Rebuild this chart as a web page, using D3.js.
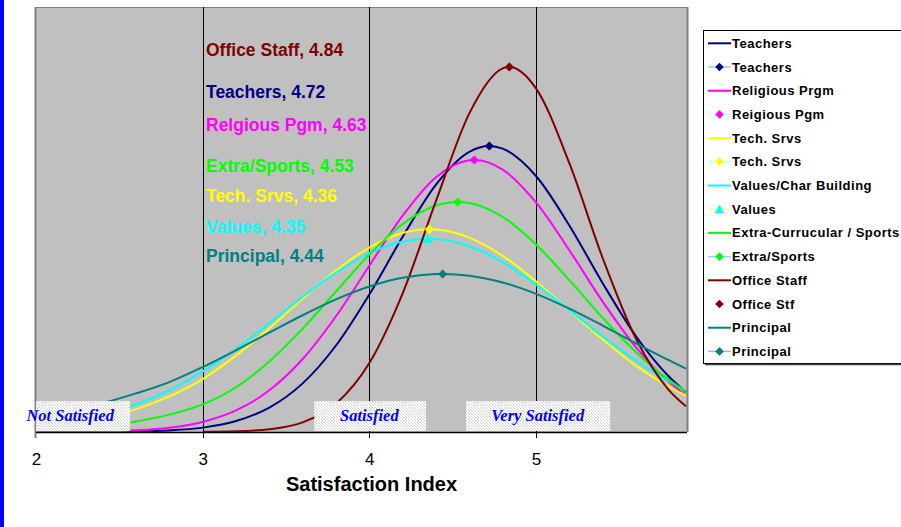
<!DOCTYPE html>
<html><head><meta charset="utf-8">
<script src="https://cdn.jsdelivr.net/npm/d3@7"></script>
<style>body{margin:0;background:#fff;overflow:hidden}svg{display:block;font-family:Arial,"Liberation Sans",sans-serif}</style>
</head><body><svg id="chart" width="901" height="527"></svg>
<script>
// ---------- data ----------
const xValues   = [2.0,2.2,2.4,2.6,2.8,3.0,3.2,3.4,3.6,3.8,4.0,4.2,4.4,4.6,4.8,5.0,5.2,5.4,5.6,5.8,5.9];
const teachers  = [0.0000,0.0001,0.0003,0.0012,0.0037,0.0103,0.0258,0.0575,0.1147,0.2040,0.3243,0.4604,0.5837,0.6609,0.6684,0.6038,0.4871,0.3510,0.2259,0.1298,0.0944];
const religious = [0.0001,0.0004,0.0013,0.0039,0.0101,0.0238,0.0508,0.0983,0.1721,0.2730,0.3922,0.5101,0.6008,0.6408,0.6189,0.5414,0.4288,0.3075,0.1998,0.1175,0.0868];
const techSrvs  = [0.0120,0.0200,0.0330,0.0540,0.0840,0.1249,0.1801,0.2449,0.3143,0.3807,0.4351,0.4692,0.4774,0.4584,0.4153,0.3551,0.2865,0.2181,0.1566,0.1062,0.0855];
const values    = [0.0170,0.0270,0.0410,0.0650,0.0983,0.1424,0.1960,0.2563,0.3184,0.3759,0.4217,0.4495,0.4553,0.4382,0.4007,0.3482,0.2875,0.2255,0.1681,0.1191,0.0983];
const extra     = [0.0040,0.0080,0.0140,0.0250,0.0410,0.0650,0.1055,0.1664,0.2437,0.3313,0.4183,0.4905,0.5341,0.5401,0.5071,0.4422,0.3581,0.2693,0.1880,0.1220,0.0955];
const office    = [null,null,null,null,null,0.0003,0.0015,0.0064,0.0228,0.0668,0.1626,0.3271,0.5449,0.7515,0.8577,0.8105,0.6339,0.4104,0.2199,0.0976,0.0605];
const principal = [0.0340,0.0490,0.0680,0.0910,0.1177,0.1532,0.1928,0.2344,0.2754,0.3127,0.3430,0.3636,0.3724,0.3686,0.3525,0.3258,0.2910,0.2511,0.2093,0.1687,0.1495];

const lineNames   = ["Teachers","Religious Prgm","Tech. Srvs","Values/Char Building","Extra-Currucular / Sports","Office Staff","Principal"];
const markerNames = ["Teachers","Reigious Pgm","Tech. Srvs","Values","Extra/Sports","Office Stf","Principal"];
const means       = [4.72,4.63,4.36,4.35,4.53,4.84,4.44];
const peakValues  = [0.6745,0.6415,0.478,0.456,0.5425,0.861,0.3727];
const colors      = ["#000080","#FF00FF","#FFFF00","#00FFFF","#00FF00","#800000","#008080"];
const markerShapes= ["diamond","diamond","diamond","triangle","diamond","diamond","diamond"];
const legendGhost = ["#99CCFF","#CCFFFF","#CCFFCC","#FFFF99","#99CCFF",null,"#CC99FF"];
const seriesValues= [teachers,religious,techSrvs,values,extra,office,principal];

const annotationLabels = ["Office Staff, 4.84","Teachers, 4.72","Relgious Pgm, 4.63","Extra/Sports, 4.53","Tech. Srvs, 4.36","Values, 4.35","Principal, 4.44"];
const annotationSeries = [5,0,1,4,2,3,6];
const xTicks = [2,3,4,5];
const bandLabels = ["Not Satisfied","Satisfied","Very Satisfied"];
const bandLabelAt = [2.205,4.0,5.01];
const bandRanges = [[2.0,2.565],[3.67,4.34],[4.58,5.445]];
const xTitle = "Satisfaction Index";

// ---------- layout ----------
const svg = d3.select("#chart");
const P = {left:36, right:687, top:7, bottom:432};
const x = d3.scaleLinear().domain([2,5.9]).range([36,686]);
const y = d3.scaleLinear().domain([0,1]).range([432,8]);

svg.append("rect").attr("x",0).attr("y",0).attr("width",4).attr("height",527).attr("fill","#0000FF");

const defs = svg.append("defs");
defs.append("clipPath").attr("id","clip").append("rect")
  .attr("x",P.left).attr("y",P.top).attr("width",P.right-P.left).attr("height",P.bottom-P.top);
const pat = defs.append("pattern").attr("id","tex").attr("width",3).attr("height",3).attr("patternUnits","userSpaceOnUse");
pat.append("rect").attr("width",3).attr("height",3).attr("fill","#ffffff");
pat.append("rect").attr("x",1).attr("y",0).attr("width",1).attr("height",1).attr("fill","#cfcfcf");
pat.append("rect").attr("x",0).attr("y",2).attr("width",1).attr("height",1).attr("fill","#cfcfcf");
pat.append("rect").attr("x",2).attr("y",1).attr("width",1).attr("height",1).attr("fill","#e0e0e0");

svg.append("rect").attr("x",P.left).attr("y",P.top).attr("width",P.right-P.left).attr("height",P.bottom-P.top).attr("fill","#C0C0C0");
svg.append("line").attr("x1",P.left).attr("x2",P.right).attr("y1",P.top+0.5).attr("y2",P.top+0.5).attr("stroke","#808080");
svg.append("line").attr("x1",P.left-0.5).attr("x2",P.left-0.5).attr("y1",P.top).attr("y2",438).attr("stroke","#808080").attr("stroke-width",2);
svg.append("line").attr("x1",P.right+0.5).attr("x2",P.right+0.5).attr("y1",P.top).attr("y2",P.bottom).attr("stroke","#808080").attr("stroke-width",2);

// gridlines (extend as tick marks)
svg.selectAll(".grid").data(xTicks.filter(d=>d>2)).enter().append("line")
  .attr("x1",d=>Math.round(x(d))+0.5).attr("x2",d=>Math.round(x(d))+0.5)
  .attr("y1",P.top).attr("y2",438).attr("stroke","#000").attr("stroke-width",1);

// axis
const axis = d3.axisBottom(x).tickValues(xTicks).tickFormat(d3.format("d")).tickSize(0);
const ag = svg.append("g").attr("transform",`translate(0,${P.bottom})`).call(axis);
ag.select(".domain").remove();
ag.selectAll("text").attr("y",33).attr("dy",0).attr("font-size",17).attr("font-family","Arial, 'Liberation Sans', sans-serif").attr("fill","#000");
svg.append("line").attr("x1",P.left).attr("x2",P.right).attr("y1",P.bottom+0.5).attr("y2",P.bottom+0.5).attr("stroke","#000").attr("stroke-width",1.5);

svg.append("text").attr("x",(P.left+P.right)/2+10).attr("y",491).attr("text-anchor","middle")
  .attr("font-size",20).attr("font-weight","bold").text(xTitle);

// curves
const line = d3.line().defined(d=>d[1]!==null).x(d=>x(d[0])).y(d=>y(d[1])).curve(d3.curveMonotoneX);
const diamond = r=>`M0,${-r}L${r},0L0,${r}L${-r},0Z`;
const triangle = r=>`M0,${-r}L${r},${r*0.85}L${-r},${r*0.85}Z`;
const plotG = svg.append("g").attr("clip-path","url(#clip)");
seriesValues.forEach((vals,i)=>{
  let pts = xValues.map((xv,j)=>[xv,vals[j]]).filter(p=>p[1]!==null);
  pts.push([means[i],peakValues[i]]);
  pts.sort((a,b)=>a[0]-b[0]);
  plotG.append("path").datum(pts).attr("d",line).attr("fill","none").attr("stroke",colors[i]).attr("stroke-width",2);
});
seriesValues.forEach((vals,i)=>{
  plotG.append("path").attr("transform",`translate(${x(means[i])},${y(peakValues[i])})`)
    .attr("d",markerShapes[i]==="diamond"?diamond(4.6):triangle(5)).attr("fill",colors[i]);
});

// annotations
const annoY = [56,98,131,172,202,233,262];
annotationLabels.forEach((t,k)=>{
  svg.append("text").attr("x",206).attr("y",annoY[k]).attr("font-size",17.5).attr("font-weight","bold")
    .attr("fill",colors[annotationSeries[k]]).text(t);
});

// category bands
bandLabels.forEach((t,k)=>{
  svg.append("rect").attr("x",x(bandRanges[k][0])).attr("y",401).attr("width",x(bandRanges[k][1])-x(bandRanges[k][0])).attr("height",30)
    .attr("fill","url(#tex)");
  svg.append("text").attr("x",x(bandLabelAt[k])).attr("y",420.5).attr("text-anchor","middle")
    .attr("font-family","'Liberation Serif','Times New Roman',serif").attr("font-style","italic").attr("font-weight","bold")
    .attr("font-size",16.5).attr("fill","#0000FF").text(t);
});

// legend
const L = svg.append("g");
L.append("rect").attr("x",703.5).attr("y",30.5).attr("width",220).attr("height",333).attr("fill","#fff").attr("stroke","#000");
L.append("line").attr("x1",705).attr("x2",901).attr("y1",364.5).attr("y2",364.5).attr("stroke","#404040").attr("stroke-width",1.5);
const rowY = k=>43.3+k*23.7;
lineNames.forEach((nm,i)=>{
  const y1 = rowY(2*i), y2 = rowY(2*i+1);
  L.append("line").attr("x1",708).attr("x2",731).attr("y1",y1).attr("y2",y1).attr("stroke",colors[i]).attr("stroke-width",2);
  L.append("text").attr("x",732).attr("y",y1+4.5).attr("font-size",13).attr("font-weight","bold").attr("letter-spacing",0.5).text(nm);
  if(legendGhost[i]) L.append("line").attr("x1",708).attr("x2",731).attr("y1",y2).attr("y2",y2).attr("stroke",legendGhost[i]).attr("stroke-width",1.5);
  L.append("path").attr("transform",`translate(719.5,${y2})`).attr("d",markerShapes[i]==="diamond"?diamond(4.3):triangle(4.8)).attr("fill",colors[i]);
  L.append("text").attr("x",732).attr("y",y2+4.5).attr("font-size",13).attr("font-weight","bold").attr("letter-spacing",0.5).text(markerNames[i]);
});
</script></body></html>
